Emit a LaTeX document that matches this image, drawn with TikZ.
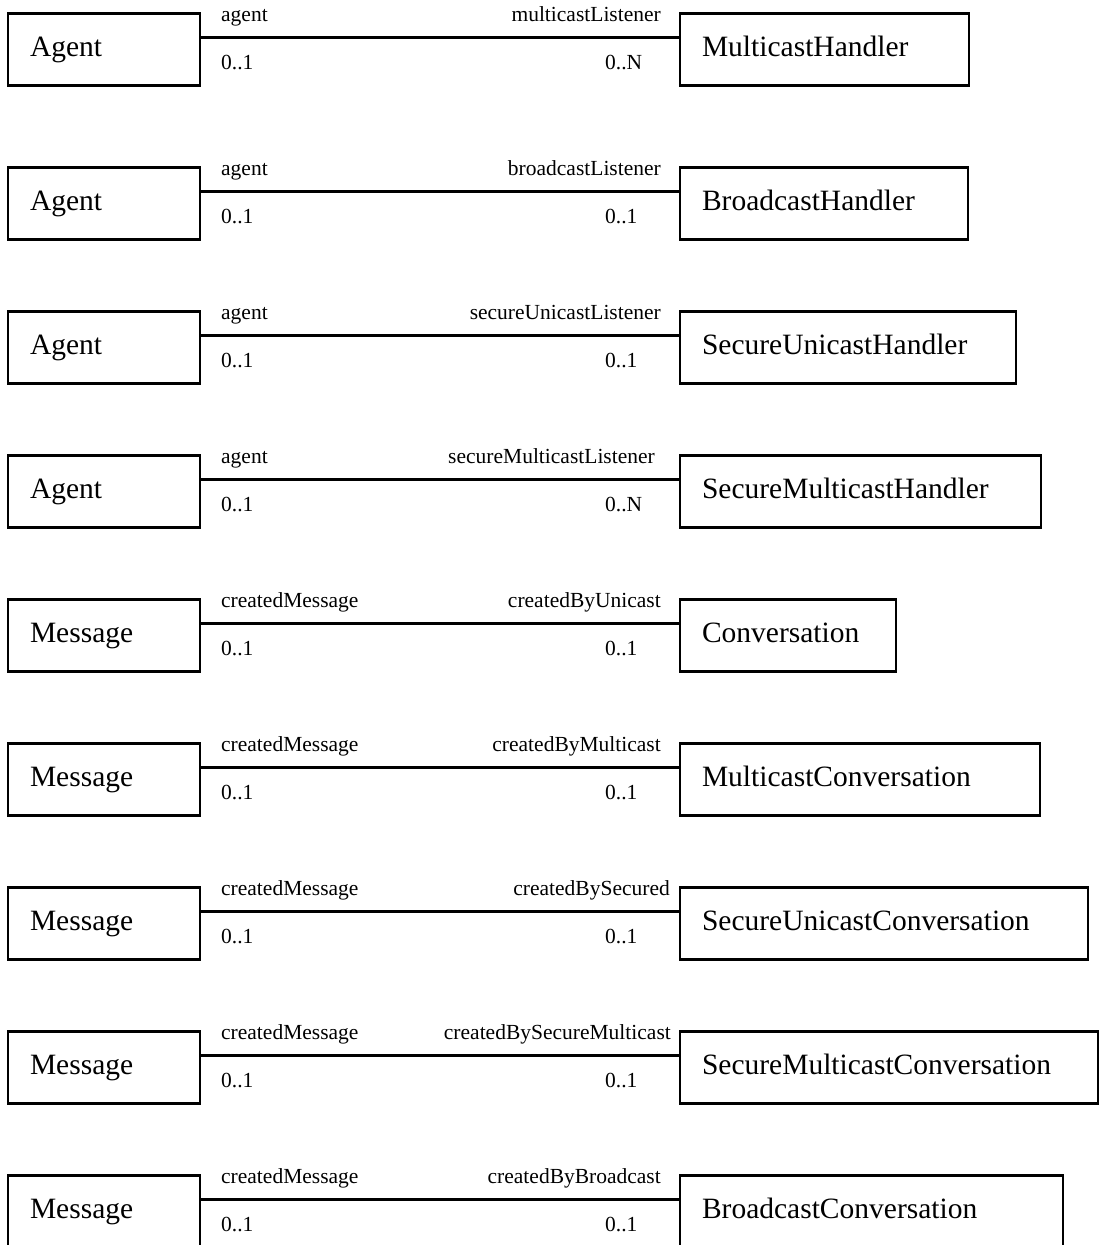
\documentclass[tikz,border=0pt]{standalone}
\usepackage{fontspec}
\setmainfont{Liberation Serif}
\begin{document}
\begin{tikzpicture}[x=1pt,y=-1pt,
  umlbox/.style={draw, line width=2.1pt, rectangle, outer sep=0pt, inner ysep=0pt, inner xsep=22pt,
    minimum height=72pt, anchor=north west, align=left, text height=20pt, text depth=6pt,
    font=\fontsize{29.5}{34}\selectfont},
  role/.style={inner sep=0pt, font=\fontsize{21.5}{25}\selectfont},
  assoc/.style={line width=2.1pt}]
\useasboundingbox (0,0) rectangle (1099,1245);
\clip (0,0) rectangle (1099,1245);
\foreach \i/\t/\ln/\rn/\tw/\lt/\rt/\rte/\rb in {
  1/13.5/Agent/MulticastHandler/245/agent/multicastListener/661/0..N,
  2/167.5/Agent/BroadcastHandler/244/agent/broadcastListener/661/0..1,
  3/311.5/Agent/SecureUnicastHandler/292/agent/secureUnicastListener/661/0..1,
  4/455.5/Agent/SecureMulticastHandler/317/agent/secureMulticastListener/655/0..N,
  5/599.5/Message/Conversation/172/createdMessage/createdByUnicast/661/0..1,
  6/743.5/Message/MulticastConversation/316/createdMessage/createdByMulticast/661/0..1,
  7/887.5/Message/SecureUnicastConversation/364/createdMessage/createdBySecured/670/0..1,
  8/1031.5/Message/SecureMulticastConversation/374/createdMessage/createdBySecureMulticast/671/0..1,
  9/1175.5/Message/BroadcastConversation/339/createdMessage/createdByBroadcast/661/0..1}{
  \node[umlbox, text width=148pt] (L\i) at (8,\t) {\ln};
  \node[umlbox, text width=\tw pt] (R\i) at (680,\t) {\rn};
  \draw[assoc] ([yshift=12pt]L\i.east) -- ([yshift=12pt]R\i.west);
  \node[role, anchor=base west] (lt\i) at (221,\t+7.5) {\lt};
  \node[role, anchor=base west] (lb\i) at (221,\t+55.5) {0..1};
  \node[role, anchor=base east] (rt\i) at (\rte,\t+7.5) {\rt};
  \node[role, anchor=base west] (rb\i) at (605,\t+55.5) {\rb};
}
\end{tikzpicture}
\end{document}
